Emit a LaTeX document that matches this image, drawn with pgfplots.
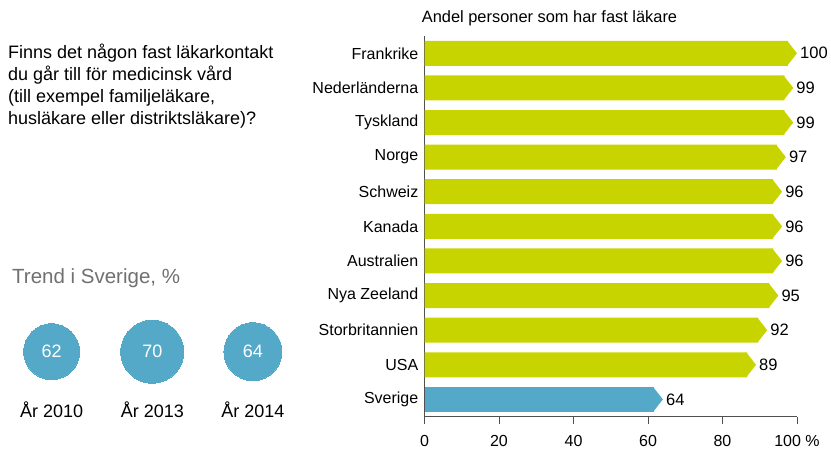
\documentclass[border=0pt]{standalone}
\usepackage{pgfplots}
\pgfplotsset{compat=1.18}
\usepackage{pgfplotstable}
\usepackage{fontspec}
\setmainfont{Liberation Sans}
\definecolor{barG}{RGB}{200,212,0}
\definecolor{barB}{RGB}{84,169,200}
\definecolor{axG}{RGB}{80,80,80}
\definecolor{txtG}{RGB}{112,112,112}
\pgfdeclareplotmark{chev}{%
  \pgfpathmoveto{\pgfpoint{-0.8pt}{-12.5pt}}%
  \pgfpathlineto{\pgfpoint{9pt}{0pt}}%
  \pgfpathlineto{\pgfpoint{-0.8pt}{12.5pt}}%
  \pgfpathclose\pgfusepathqfill}
\pgfplotstableread{
i v
0 100
1 99
2 99
3 97
4 96
5 96
6 96
7 95
8 92
9 89
}\others
\pgfplotstableread{
i v
10 64
}\sverige
\begin{document}
\begin{tikzpicture}[x=1pt,y=1pt]
\useasboundingbox (0,0) rectangle (831,450);
% question text
\node[anchor=base west,inner sep=0,font=\fontsize{18}{22}\selectfont] at (8,391.7) {Finns det någon fast läkarkontakt};
\node[anchor=base west,inner sep=0,font=\fontsize{18}{22}\selectfont] at (8,369.5) {du går till för medicinsk vård};
\node[anchor=base west,inner sep=0,font=\fontsize{18}{22}\selectfont] at (8,347.3) {(till exempel familjeläkare,};
\node[anchor=base west,inner sep=0,font=\fontsize{18}{22}\selectfont] at (8,325.1) {husläkare eller distriktsläkare)?};
\node[anchor=base west,inner sep=0,text=txtG,font=\fontsize{20.5}{24}\selectfont] at (12,166) {Trend i Sverige, \%};
\node[anchor=base west,inner sep=0,font=\fontsize{16.4}{19}\selectfont] at (421.7,427.3) {Andel personer som har fast läkare};
% main bar axis
\begin{axis}[
  at={(424.5pt,33.3pt)}, anchor=south west,
  scale only axis, width=372.5pt, height=380.7pt,
  xmin=0, xmax=100, ymin=-0.5, ymax=10.5, y dir=reverse,
  axis x line*=bottom, axis y line*=left,
  axis line style={draw=axG, line width=0.8pt},
  xtick={0,20,40,60,80,100},
  xticklabels={0,20,40,60,80,100~\%},
  x tick style={draw=axG, line width=0.8pt},
  tick align=outside, major tick length=7pt,
  ytick={0,...,10},
  yticklabels={Frankrike,Nederländerna,Tyskland,Norge,Schweiz,Kanada,Australien,Nya Zeeland,Storbritannien,USA,Sverige},
  y tick style={draw=none},
  yticklabel style={font=\fontsize{16}{19}\selectfont, inner sep=0pt, anchor=east, xshift=1pt},
  xticklabel style={font=\fontsize{16}{19}\selectfont, inner sep=0pt, anchor=north, yshift=-11pt},
  /pgf/number format/assume math mode=true,
  clip=false,
]
\addplot[xbar, bar width=25pt, bar shift=0pt, fill=barG, draw=none] table[x expr=\thisrow{v}-2.42, y=i] {\others};
\addplot[xbar, bar width=25pt, bar shift=0pt, fill=barB, draw=none] table[x expr=\thisrow{v}-2.42, y=i] {\sverige};
\addplot[only marks, mark=chev, mark options={fill=barG, draw=none}, color=barG,
  point meta=\thisrow{v}, nodes near coords,
  nodes near coords style={anchor=west, inner sep=0pt, xshift=12pt, text=black, font=\fontsize{16.5}{19}\selectfont}]
  table[x expr=\thisrow{v}-2.42, y=i] {\others};
\addplot[only marks, mark=chev, mark options={fill=barB, draw=none}, color=barB,
  point meta=\thisrow{v}, nodes near coords,
  nodes near coords style={anchor=west, inner sep=0pt, xshift=12pt, text=black, font=\fontsize{16.5}{19}\selectfont}]
  table[x expr=\thisrow{v}-2.42, y=i] {\sverige};
\end{axis}
% trend circles
\begin{axis}[
  at={(152.3pt,98.3pt)}, anchor=center,
  scale only axis, width=201.3pt, height=116pt,
  xmin=0, xmax=2, ymin=-1, ymax=1,
  axis line style={draw=none},
  ytick=\empty,
  xtick={0,1,2}, xticklabels={År 2010,År 2013,År 2014},
  major tick length=0pt,
  xticklabel style={font=\fontsize{18}{21}\selectfont, inner sep=0pt, anchor=center, yshift=0pt},
  /pgf/number format/assume math mode=true,
  clip=false,
]
\addplot[only marks, color=barB, mark=*, mark size=28pt, mark options={fill=barB, draw=barB, line width=0pt},
  point meta=explicit, nodes near coords,
  nodes near coords style={anchor=center, inner sep=0pt, text=white, font=\fontsize{18}{21}\selectfont}]
  coordinates {(0,0) [62]};
\addplot[only marks, color=barB, mark=*, mark size=31.5pt, mark options={fill=barB, draw=barB, line width=0pt},
  point meta=explicit, nodes near coords,
  nodes near coords style={anchor=center, inner sep=0pt, text=white, font=\fontsize{18}{21}\selectfont}]
  coordinates {(1,0) [70]};
\addplot[only marks, color=barB, mark=*, mark size=29pt, mark options={fill=barB, draw=barB, line width=0pt},
  point meta=explicit, nodes near coords,
  nodes near coords style={anchor=center, inner sep=0pt, text=white, font=\fontsize{18}{21}\selectfont}]
  coordinates {(2,0) [64]};
\end{axis}
\end{tikzpicture}
\end{document}
